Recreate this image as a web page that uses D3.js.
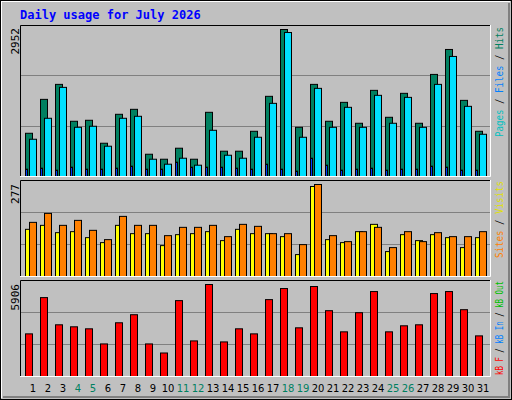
<!DOCTYPE html>
<html><head><meta charset="utf-8">
<script src="https://cdn.jsdelivr.net/npm/d3@7"></script>
<style>body{margin:0;background:#fff}</style></head><body>
<script>
const days = d3.range(1,32).map(String);
const weekend = ["4","5","11","12","18","19","25","26"];
const hits  = [868,1549,1850,1109,1129,668,1249,1349,447,347,568,347,1289,508,508,908,1610,2952,988,1850,1109,1489,1069,1730,1189,1670,1069,2050,2551,1529,908];
const files = [748,1169,1790,988,1009,608,1169,1209,347,247,367,227,928,427,367,788,1469,2892,788,1770,988,1389,988,1630,1069,1589,988,1850,2411,1409,848];
const pages = [147,167,127,187,147,147,167,207,147,147,287,187,187,187,167,147,247,147,107,367,227,127,147,167,127,147,147,207,187,127,127];
const visits = [142,154,132,135,117,102,154,129,129,93,126,129,135,108,142,129,129,120,66,271,111,102,135,157,75,126,108,126,117,87,117];
const sites  = [163,190,154,169,139,111,181,154,154,123,148,148,154,120,157,151,129,129,96,277,123,105,135,148,87,135,105,132,120,120,135];
const kbytes = [2737,5065,3319,3190,3061,2091,3449,3966,2091,1509,4871,2285,5906,2220,3061,2737,4936,5647,3125,5777,4225,2867,4095,5453,2867,3255,3319,5324,5453,4289,2608];

const W=512,H=400;
const svg=d3.select("body").append("svg").attr("width",W).attr("height",H);
svg.append("rect").attr("width",W).attr("height",H).attr("fill","#c0c0c0");
svg.append("path").attr("d","M1,398V1H510").attr("fill","none").attr("stroke","#fff").attr("stroke-width",2);
svg.append("path").attr("d","M3,397H509V3").attr("fill","none").attr("stroke","#808080").attr("stroke-width",2);
svg.append("rect").attr("x",0.5).attr("y",0.5).attr("width",W-1).attr("height",H-1).attr("fill","none").attr("stroke","#000");

svg.append("text").attr("x",20).attr("y",19).text("Daily usage for July 2026")
  .attr("font-family","DejaVu Sans Mono").attr("font-weight","bold").attr("font-size",12).attr("fill","#0000ff");

const X0=20,X1=491;
const x=d3.scaleBand().domain(days).range([X0+3,X0+3+15*31]).paddingInner(0);
const mono="DejaVu Sans Mono";

function panel(top,bottom,max,series){
  const g=svg.append("g");
  g.append("rect").attr("x",X0).attr("y",top).attr("width",X1-X0).attr("height",bottom-top).attr("fill","#c0c0c0");
  const y=d3.scaleLinear().domain([0,max]).range([bottom,top]);
  [max/3,2*max/3].forEach(v=>g.append("line").attr("x1",X0).attr("x2",X1).attr("y1",Math.round(y(v))+.5).attr("y2",Math.round(y(v))+.5).attr("stroke","#808080"));
  series.forEach(s=>{
    g.selectAll(null).data(s.data).enter().append("rect")
      .attr("x",(d,i)=>x(days[i])+s.off+.5).attr("width",s.w)
      .attr("y",d=>y(d)+.5).attr("height",d=>bottom-y(d))
      .attr("fill",s.color).attr("stroke","#000");
  });
  g.append("path").attr("d",`M${X0+.5},${bottom}V${top+.5}H${X1-.5}`).attr("fill","none").attr("stroke","#000");
  g.append("path").attr("d",`M${X0},${bottom+.5}H${X1-.5}V${top}`).attr("fill","none").attr("stroke","#fff");
  return y;
}
panel(25,176,2952*151/147,[
  {data:hits,off:2,w:7,color:"#008060"},
  {data:files,off:6,w:7,color:"#00e0ff"},
  {data:pages,off:2,w:2,color:"#0040ff"}]);
panel(180,276,277*96/92,[
  {data:visits,off:2,w:7,color:"#ffff00"},
  {data:sites,off:6,w:7,color:"#ff8000"}]);
panel(280,376,5906*96/92,[
  {data:kbytes,off:2,w:7,color:"#ff0000"}]);

function ylab(v,y){
  svg.append("text").attr("transform",`translate(19,${y}) rotate(-90)`).attr("text-anchor","end")
   .attr("font-family",mono).attr("font-size",11).attr("fill","#000").text(v);
}
ylab("2952",28); ylab("277",184); ylab("5906",284);

function rlab(parts,yStart,len){
  const t=svg.append("text").attr("transform",`translate(503,${yStart+len}) rotate(-90)`)
   .attr("font-family",mono).attr("font-size",11)
   .attr("textLength",len).attr("lengthAdjust","spacingAndGlyphs");
  parts.forEach(p=>t.append("tspan").attr("fill",p[1]).text(p[0]));
}
rlab([["Pages","#00c0c0"],[" / ","#000"],["Files","#0080ff"],[" / ","#000"],["Hits","#008060"]],27,110);
rlab([["Sites","#ff8000"],[" / ","#000"],["Visits","#e0e000"]],181,77);
rlab([["kB F","#ff0000"],[" / ","#000"],["kB In","#0080ff"],[" / ","#000"],["kB Out","#00c000"]],281,94);

svg.selectAll(".xl").data(days).enter().append("text")
  .attr("x",d=>x(d)+10).attr("y",392).attr("text-anchor","middle")
  .attr("font-family","DejaVu Sans").attr("font-size",10)
  .attr("fill",d=>weekend.includes(d)?"#008060":"#000").text(d=>d);
</script></body></html>
